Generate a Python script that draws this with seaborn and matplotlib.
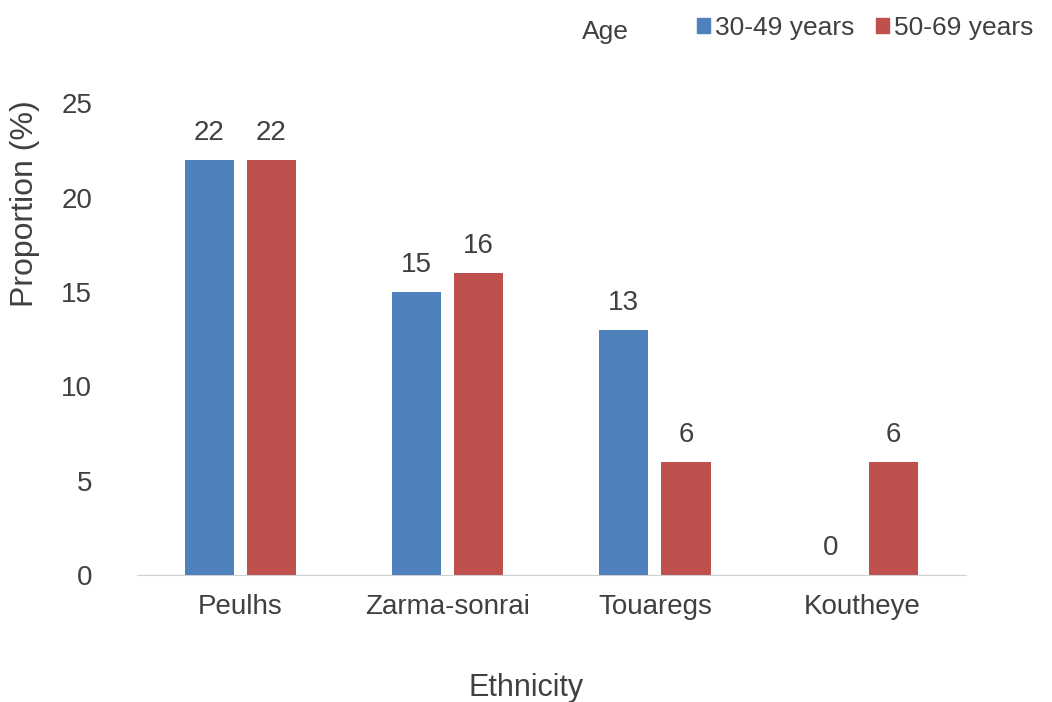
import matplotlib
matplotlib.use("Agg")
import matplotlib.pyplot as plt
import seaborn as sns
import pandas as pd
from matplotlib.patches import Patch

ethnicity = ["Peulhs", "Zarma-sonrai", "Touaregs", "Koutheye"]
age_groups = ["30-49 years", "50-69 years"]
young = [22, 15, 13, 0]
old = [22, 16, 6, 6]
colors = ["#4F81BD", "#C0504D"]

df = pd.DataFrame({
    "Ethnicity": ethnicity * 2,
    "Age": [age_groups[0]] * 4 + [age_groups[1]] * 4,
    "Proportion": young + old,
})

sns.set_style("white")
plt.rcParams["font.family"] = ["Liberation Sans", "DejaVu Sans"]
txt = "#404040"

fig = plt.figure(figsize=(10.52, 7.02), dpi=100)
ax = fig.add_axes([0.13, 0.181, 0.788, 0.672])

sns.barplot(data=df, x="Ethnicity", y="Proportion", hue="Age",
            palette=colors, saturation=1, width=0.6, gap=0.21,
            linewidth=0, legend=False, ax=ax)

for cont in ax.containers:
    ax.bar_label(cont, fmt="%d", padding=10, fontsize=20, color=txt)

ax.set_ylim(0, 25)
ax.set_yticks(range(0, 26, 5))
ax.set_xlim(-0.5, 3.5)
ax.tick_params(axis="both", labelsize=20, colors=txt, length=0)
ax.tick_params(axis="x", pad=14)
ax.tick_params(axis="y", pad=32)
for s in ["top", "right", "left"]:
    ax.spines[s].set_visible(False)
ax.spines["bottom"].set_color("#d0d0d0")
ax.set_xlabel("")
ax.set_ylabel("")

fig.text(0.024, 0.71, "Proportion (%)", rotation=90, ha="center", va="center",
         fontsize=23, color=txt)
fig.text(0.5, 0.02, "Ethnicity", ha="center", va="center", fontsize=22, color=txt)
fig.text(0.575, 0.955, "Age", ha="center", va="center", fontsize=19, color=txt)

handles = [Patch(color=c, label=l) for c, l in zip(colors, age_groups)]
fig.legend(handles=handles, loc="center right", bbox_to_anchor=(1.005, 0.96),
           ncol=2, frameon=False, fontsize=19, handlelength=0.5, handleheight=0.5,
           handletextpad=0.2, columnspacing=0.8, labelcolor=txt)

fig.savefig("out.png", dpi=100)
